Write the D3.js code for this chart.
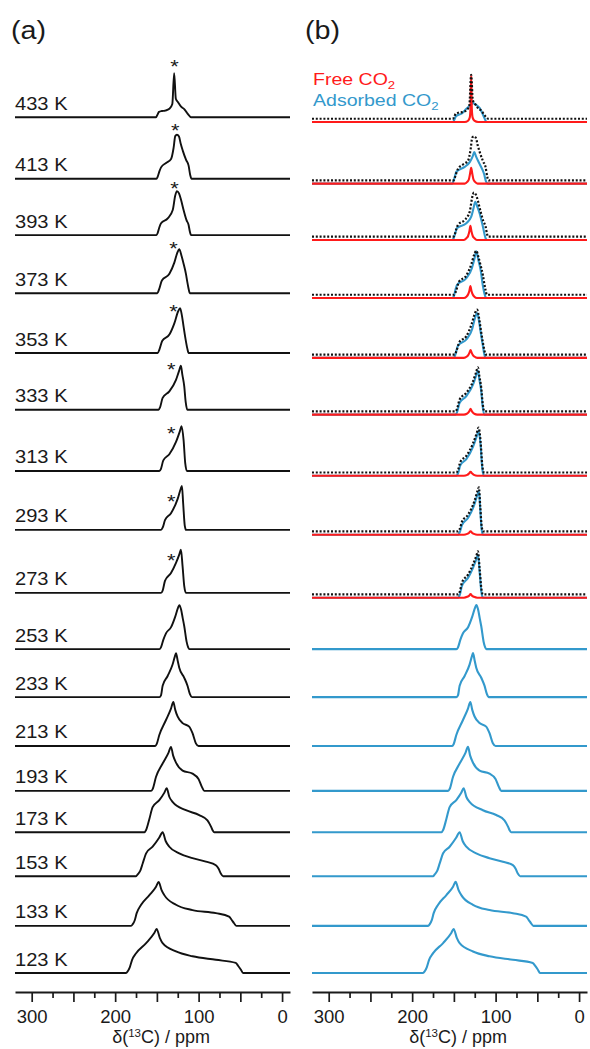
<!DOCTYPE html>
<html>
<head>
<meta charset="utf-8">
<script src="https://cdn.jsdelivr.net/npm/d3@7/dist/d3.min.js"></script>
<style>
  body { margin: 0; background: #fff; }
  text { font-family: "Liberation Sans", Arial, sans-serif; fill: #1a1a1a; }
</style>
</head>
<body>
<div id="chart"></div>
<script>
// temperatures, top to bottom
var temps = [433, 413, 393, 373, 353, 333, 313, 293, 273, 253, 233, 213, 193, 173, 153, 133, 123];
// vertical offset of each trace (intensity units, 1 = peak height)
var offsets = [19.45, 18.05, 16.77, 15.45, 14.09, 12.80, 11.41, 10.07, 8.64, 7.36, 6.27, 5.16, 4.14, 3.20, 2.20, 1.07, 0];

var specA = [
  [[151,0],[149.5,0.05],[147.5,0.12],[144,0.14],[140,0.15],[135,0.19],[131.5,0.3],[129.3,1.0],[127.3,0.42],[125,0.35],[121,0.24],[117,0.18],[114,0.1],[111,0.03],[109,0]],
  [[150.5,0],[149,0.05],[147,0.17],[145,0.26],[139,0.36],[133,0.45],[130,0.7],[128,0.97],[126,1.0],[123.5,0.96],[121.5,0.8],[119,0.64],[115,0.43],[112,0.3],[110,0.08],[108.5,0]],
  [[150.5,0],[149,0.05],[147,0.18],[145,0.27],[137,0.38],[131,0.57],[128,0.9],[126,1.0],[123.5,0.95],[121,0.8],[118,0.57],[114.5,0.34],[112,0.23],[110.5,0.08],[109,0]],
  [[149.5,0],[147.5,0.08],[144,0.29],[135,0.44],[129,0.7],[125.5,0.92],[123.2,1.0],[120.5,0.85],[118,0.67],[115.2,0.44],[113.5,0.25],[112,0.1],[110.5,0]],
  [[149,0],[147,0.08],[143.5,0.28],[135,0.42],[129,0.68],[124.5,0.95],[122.2,1.02],[120,0.85],[118,0.6],[115.5,0.3],[113.5,0.1],[112,0]],
  [[148,0],[146.3,0.05],[143.1,0.27],[135.1,0.42],[127.1,0.68],[123.5,0.88],[121.2,1.0],[119.5,0.8],[117.2,0.53],[115.5,0.18],[113.5,0]],
  [[147,0],[145.1,0.05],[142.3,0.24],[135.1,0.38],[127.1,0.66],[122.5,0.9],[120.4,1.02],[118,0.7],[116,0.17],[114,0]],
  [[145,0],[143.1,0.05],[140.3,0.22],[133.1,0.38],[125.2,0.7],[121.5,0.93],[120,1.0],[118.5,0.6],[116.6,0.1],[115,0]],
  [[145,0],[143.1,0.05],[140.3,0.27],[133.1,0.45],[127.1,0.68],[123,0.88],[121.2,0.98],[119.2,0.6],[117.2,0.15],[115.2,0]],
  [[147,0],[145.1,0.04],[142.3,0.21],[139.1,0.36],[133,0.5],[128,0.74],[124.5,0.95],[123,1.0],[121,0.9],[119,0.7],[117.2,0.52],[114.4,0.17],[112.5,0.04],[111,0]],
  [[147,0],[145.1,0.04],[143.1,0.26],[137.1,0.48],[131.2,0.74],[128.5,0.92],[127.1,1.0],[125,0.82],[123.2,0.67],[117.2,0.44],[113.3,0.26],[110.4,0.07],[108,0]],
  [[152,0],[150.3,0.04],[147.1,0.25],[139.1,0.59],[133.1,0.85],[130.3,1.0],[128,0.82],[125.2,0.67],[119.2,0.52],[111.3,0.44],[107.3,0.29],[103.3,0.06],[100.1,0]],
  [[157,0],[155.1,0.04],[151,0.32],[143.1,0.62],[136,0.87],[133.1,1.0],[130.5,0.8],[127.1,0.64],[119.2,0.46],[107.3,0.39],[100.1,0.27],[96.1,0.09],[93.3,0]],
  [[165,0],[162.9,0.05],[159,0.3],[155.1,0.57],[147.1,0.73],[141,0.9],[138.3,1.0],[135,0.8],[131.2,0.69],[115.2,0.5],[99.3,0.39],[89.4,0.27],[85,0.12],[83.4,0.05],[81.4,0]],
  [[175,0],[173,0.04],[170,0.12],[167,0.29],[162.9,0.52],[155.1,0.67],[147.1,0.88],[143.1,1.0],[139.5,0.8],[135.1,0.67],[123.2,0.52],[107.3,0.41],[91.3,0.33],[79.3,0.25],[76,0.17],[73.4,0.06],[70.6,0]],
  [[181,0],[178.9,0.04],[176.5,0.13],[174.2,0.29],[168.9,0.48],[159,0.7],[151,0.89],[147.9,1.0],[144.5,0.82],[141.1,0.7],[127.1,0.48],[107.3,0.36],[79.3,0.29],[63.5,0.21],[60.5,0.14],[57.5,0.06],[54.7,0]],
  [[187,0],[184.9,0.04],[182.5,0.13],[179.7,0.3],[174.9,0.45],[162.9,0.68],[153.1,0.91],[150.3,1.0],[146.5,0.8],[143.1,0.68],[127.1,0.49],[107.3,0.38],[79.3,0.3],[55.5,0.23],[52.5,0.16],[49.5,0.08],[46.7,0]]
];

// adsorbed CO2 component, panel (b), 433-353 K (lower T: same as measured)
var adsorbedB = [
  [[151,0],[149.5,0.05],[147.5,0.13],[140,0.2],[135,0.3],[130,0.38],[127,0.43],[124,0.4],[119.2,0.32],[115.2,0.17],[112.5,0.05],[111,0]],
  [[152,0],[151,0.03],[149,0.15],[147,0.27],[137,0.38],[131,0.49],[127.5,0.62],[125.6,0.72],[123.5,0.62],[119.2,0.45],[114,0.23],[111.3,0.04],[109.3,0]],
  [[152,0],[150.3,0.04],[148,0.18],[146.2,0.27],[135.1,0.38],[129.2,0.53],[126.5,0.72],[124.4,0.87],[122,0.76],[119.2,0.61],[115.2,0.3],[112,0.04],[110,0]],
  [[152,0],[150,0.04],[148,0.2],[146.2,0.3],[135.1,0.45],[128.4,0.68],[125.5,0.88],[123.2,1.06],[120.5,0.85],[118,0.64],[115.2,0.27],[112.4,0.04],[110.8,0]],
  [[150,0],[148.5,0.06],[145,0.28],[135,0.42],[128,0.66],[124.5,0.92],[122.2,1.02],[120,0.85],[118,0.6],[115.5,0.3],[113.5,0.08],[112,0]]
];

// free CO2 component, panel (b), 433-273 K
var freeB = [
  [[137,0],[133,0.03],[131,0.1],[130.1,0.3],[129.3,1.05],[128.5,0.3],[127.5,0.1],[125.5,0.03],[121,0]],
  [[137,0],[134,0.04],[132,0.1],[130.7,0.22],[129.3,0.36],[127.9,0.22],[126.6,0.1],[124.6,0.04],[121.5,0]],
  [[138,0],[135,0.04],[133,0.09],[131.5,0.19],[130.2,0.32],[128.9,0.19],[127.4,0.09],[125.4,0.04],[122.5,0]],
  [[138,0],[135,0.03],[133,0.08],[131.5,0.16],[130.2,0.27],[128.9,0.16],[127.4,0.08],[125.4,0.03],[122.5,0]],
  [[138,0],[134.5,0.03],[132.5,0.07],[131.3,0.12],[130,0.18],[128.7,0.12],[127.5,0.07],[125.5,0.03],[122,0]],
  [[138,0],[134.5,0.02],[132.5,0.05],[131.2,0.09],[130,0.13],[128.8,0.09],[127.5,0.05],[125.5,0.02],[122,0]],
  [[138,0],[134,0.02],[132,0.05],[130,0.09],[128,0.05],[126,0.02],[122,0]],
  [[138,0],[134,0.02],[132,0.04],[130,0.08],[128,0.04],[126,0.02],[122,0]],
  [[138,0],[134,0.02],[132,0.04],[130,0.08],[128,0.04],[126,0.02],[122,0]]
];

// asterisks (free CO2) in panel (a): ppm and level above baseline
var starPpm = [129, 128, 129, 130.2, 130.2, 132.7, 132.7, 132.7, 132.7];
var starLevel = [1.23, 1.18, 1.14, 1.09, 1.02, 1.0, 0.93, 0.73, 0.82];

var majorTicks = [300, 250, 200, 150, 100, 50, 0];
var minorTicks = [275, 225, 175, 125, 75, 25];

var width = 590, height = 1049;
var stretch = 1.15;

var svg = d3.select("#chart")
  .append("svg")
  .attr("width", width)
  .attr("height", height);

var xa = d3.scaleLinear().domain([320, -9.5]).range([15, 290]);
var xb = d3.scaleLinear().domain([320, -9.5]).range([312, 587]);
var y = d3.scaleLinear().domain([0, 1]).range([973, 929]);

function full(pts) {
  return [[320, 0]].concat(pts, [[-9.5, 0]]);
}
function lineFor(x, off) {
  return d3.line()
    .x(function (d) { return x(d[0]); })
    .y(function (d) { return y(d[1] + off); })
    .curve(d3.curveMonotoneX);
}

// ---- panel (a)
temps.forEach(function (t, i) {
  svg.append("path")
    .datum(full(specA[i]))
    .attr("fill", "none")
    .attr("stroke", "#111")
    .attr("stroke-width", 1.9)
    .attr("stroke-linejoin", "round")
    .attr("d", lineFor(xa, offsets[i]));

  svg.append("text")
    .attr("transform", "translate(15," + (y(offsets[i]) - 7.5) + ") scale(" + stretch + ",1)")
    .style("font-size", "17.5px")
    .text(t + " K");
});

starPpm.forEach(function (p, i) {
  svg.append("text")
    .attr("transform", "translate(" + xa(p) + "," + (y(offsets[i] + starLevel[i]) + 10) + ") scale(" + stretch + ",1)")
    .attr("text-anchor", "middle")
    .style("font-size", "19px")
    .text("*");
});

// ---- panel (b)
temps.forEach(function (t, i) {
  if (i < freeB.length) {
    var comp = offsets[i] - 0.11;
    var blue = i < adsorbedB.length ? adsorbedB[i] : specA[i];
    svg.append("path")
      .datum(full(blue))
      .attr("fill", "none")
      .attr("stroke", "#3399cc")
      .attr("stroke-width", 2.1)
      .attr("d", lineFor(xb, comp));
    svg.append("path")
      .datum(full(freeB[i]))
      .attr("fill", "none")
      .attr("stroke", "#ff1a1a")
      .attr("stroke-width", 2.1)
      .attr("d", lineFor(xb, comp));
    svg.append("path")
      .datum(full(specA[i]))
      .attr("fill", "none")
      .attr("stroke", "#111")
      .attr("stroke-width", 2.2)
      .style("stroke-dasharray", "2, 1.8")
      .attr("d", lineFor(xb, offsets[i] - 0.035));
  } else {
    svg.append("path")
      .datum(full(specA[i]))
      .attr("fill", "none")
      .attr("stroke", "#3399cc")
      .attr("stroke-width", 2.1)
      .attr("d", lineFor(xb, offsets[i]));
  }
});

// legend
var leg1 = svg.append("text")
  .attr("transform", "translate(313,85) scale(" + stretch + ",1)")
  .style("font-size", "17px")
  .style("fill", "#ff1a1a");
leg1.append("tspan").text("Free CO");
leg1.append("tspan").attr("dy", 4).style("font-size", "11.5px").text("2");

var leg2 = svg.append("text")
  .attr("transform", "translate(313,106) scale(" + stretch + ",1)")
  .style("font-size", "17px")
  .style("fill", "#3399cc");
leg2.append("tspan").text("Adsorbed CO");
leg2.append("tspan").attr("dy", 4).style("font-size", "11.5px").text("2");

// panel letters
svg.append("text")
  .attr("transform", "translate(11,39) scale(" + stretch + ",1)")
  .style("font-size", "25px")
  .text("(a)");
svg.append("text")
  .attr("transform", "translate(305,39) scale(" + stretch + ",1)")
  .style("font-size", "25px")
  .text("(b)");

// ---- axes
function drawAxis(x) {
  var gMinor = svg.append("g")
    .attr("transform", "translate(0,992)")
    .call(d3.axisBottom(x).tickValues(minorTicks).tickSize(6).tickSizeOuter(0).tickFormat(""));
  gMinor.select(".domain").remove();
  gMinor.selectAll("line").attr("stroke", "#1a1a1a").attr("stroke-width", 1.7);

  var g = svg.append("g")
    .attr("transform", "translate(0,992)")
    .call(d3.axisBottom(x)
      .tickValues(majorTicks)
      .tickSize(10)
      .tickSizeOuter(0)
      .tickPadding(7.5)
      .tickFormat(function (d) { return d % 100 === 0 ? d : ""; }));
  g.select(".domain").attr("stroke", "#1a1a1a").attr("stroke-width", 2.2);
  g.selectAll("line").attr("stroke", "#1a1a1a").attr("stroke-width", 1.7);
  g.selectAll("text")
    .style("font-family", "'Liberation Sans', Arial, sans-serif")
    .style("font-size", "18.5px")
    .style("fill", "#1a1a1a");

  var title = svg.append("text")
    .attr("x", x(145))
    .attr("y", 1043)
    .attr("text-anchor", "middle")
    .style("font-size", "18px");
  title.append("tspan").text("δ(");
  title.append("tspan").attr("dy", -6).style("font-size", "11.5px").text("13");
  title.append("tspan").attr("dy", 6).text("C) / ppm");
}
drawAxis(xa);
drawAxis(xb);
</script>
</body>
</html>
